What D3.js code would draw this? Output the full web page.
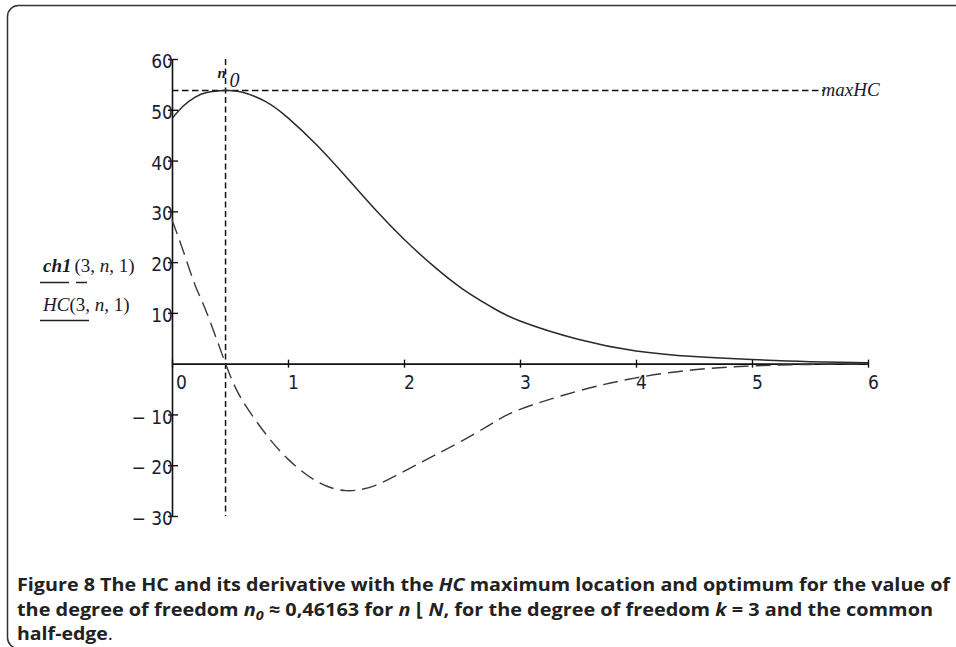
<!DOCTYPE html>
<html>
<head>
<meta charset="utf-8">
<script src="https://cdn.jsdelivr.net/npm/d3@7"></script>
<style>
  body { margin: 0; background: #fff; }
  svg { display: block; }
</style>
</head>
<body>
<script>
// values
var nValues   = [0, 0.1, 0.2, 0.3, 0.46163, 0.6, 0.8, 1.0, 1.25, 1.5, 1.75, 2.0, 2.25, 2.5, 2.75, 3.0, 3.5, 4.0, 4.5, 5.0, 5.5, 6.0];
var hcValues  = [48.3, 50.8, 52.5, 53.4, 53.8, 53.5, 51.7, 48.4, 43.0, 36.8, 30.4, 24.5, 19.3, 14.8, 11.2, 8.4, 4.8, 2.5, 1.4, 0.8, 0.4, 0.2];
var ch1Values = [28.3, 22.0, 15.4, 10.0, 0, -7.0, -13.6, -18.8, -23.2, -25.0, -24.0, -21.2, -18.2, -15.2, -11.9, -9.0, -5.4, -2.8, -1.2, -0.45, -0.15, -0.05];
var xTicks = [0, 1, 2, 3, 4, 5, 6];
var yTicks = [60, 50, 40, 30, 20, 10, -10, -20, -30];
var n0 = 0.46163, maxHC = 53.8;

var width = 956, height = 647;

var svg = d3.select("body").append("svg")
    .attr("width", width)
    .attr("height", height);

//frame with rounded corner, right side runs off the page
svg.append("rect")
    .attr("x", 7.5).attr("y", 5.5)
    .attr("width", 1000).attr("height", 643)
    .attr("rx", 11)
    .attr("fill", "none")
    .attr("stroke", "#333")
    .attr("stroke-width", 1.5);

var x = d3.scaleLinear().domain([0, 6]).range([172, 868]);
var y = d3.scaleLinear().domain([-30, 60]).range([516, 59]);

var tickFont = "'DejaVu Sans Condensed', 'DejaVu Sans', sans-serif";
var mathFont = "'Liberation Serif', 'DejaVu Serif', serif";

/* AXES */
var yAxis = svg.append("g")
    .attr("transform", "translate(" + x(0) + ",0)")
    .call(d3.axisLeft(y).tickValues(yTicks).tickSize(4).tickSizeOuter(0)
        .tickFormat(function(d){ return d < 0 ? "\u2212 " + Math.abs(d) : d; }));
yAxis.select(".domain").attr("stroke", "#111").attr("stroke-width", 1.6);
yAxis.selectAll(".tick line").attr("x1", 6).attr("x2", -4).attr("stroke", "#111").attr("stroke-width", 1.4);
yAxis.selectAll(".tick text")
    .attr("x", 1).attr("dy", "0.45em")
    .attr("font-family", tickFont).attr("font-size", 19).attr("fill", "#1c1c30");

var xAxis = svg.append("g")
    .attr("transform", "translate(0," + y(0) + ")")
    .call(d3.axisBottom(x).tickValues(xTicks).tickSize(4).tickSizeOuter(0)
        .tickFormat(d3.format("d")));
xAxis.select(".domain").attr("stroke", "#111").attr("stroke-width", 1.6);
xAxis.selectAll(".tick line").attr("y1", -4).attr("y2", 4).attr("stroke", "#111").attr("stroke-width", 1.4);
xAxis.selectAll(".tick text")
    .attr("x", function(d){ return d === 0 ? 9 : 5; }).attr("y", 25).attr("dy", 0)
    .attr("font-family", tickFont).attr("font-size", 19).attr("fill", "#1c1c30");

/* REFERENCE LINES */
svg.append("line")
    .attr("x1", x(n0)).attr("x2", x(n0))
    .attr("y1", y(60)).attr("y2", y(-30))
    .attr("stroke", "#111").attr("stroke-width", 1.5)
    .attr("stroke-dasharray", "6,3.5");

svg.append("line")
    .attr("x1", x(0)).attr("x2", x(5.62))
    .attr("y1", y(maxHC)).attr("y2", y(maxHC))
    .attr("stroke", "#111").attr("stroke-width", 1.5)
    .attr("stroke-dasharray", "6.5,3.5");

/* CURVES */
var line = d3.line().curve(d3.curveNatural);

svg.append("path")
    .attr("d", line(nValues.map(function(n, i){ return [x(n), y(hcValues[i])]; })))
    .attr("fill", "none")
    .attr("stroke", "#2a2a2a")
    .attr("stroke-width", 1.5);

svg.append("path")
    .attr("d", line(nValues.map(function(n, i){ return [x(n), y(ch1Values[i])]; })))
    .attr("fill", "none")
    .attr("stroke", "#3a3a3a")
    .attr("stroke-width", 1.4)
    .attr("stroke-dasharray", "15,7");

/* LABELS */
var maxLabel = svg.append("text")
    .attr("x", x(5.6)).attr("y", y(maxHC) + 6)
    .attr("font-family", mathFont).attr("font-size", 19)
    .attr("font-style", "italic").attr("fill", "#1a1a2a");
maxLabel.append("tspan").text("max");
maxLabel.append("tspan").text("HC");

svg.append("text")
    .attr("x", x(n0) - 8).attr("y", y(60) + 19)
    .attr("font-family", mathFont).attr("font-size", 15)
    .attr("font-style", "italic").attr("font-weight", "bold").attr("fill", "#1a1a2a")
    .text("n");
svg.append("text")
    .attr("x", x(n0) + 4).attr("y", y(60) + 28)
    .attr("font-family", mathFont).attr("font-size", 20)
    .attr("font-style", "italic").attr("fill", "#1a1a2a")
    .text("0");

//trace names on the left, each underlined with its line style
var lab1 = svg.append("text")
    .attr("x", 43).attr("y", 272)
    .attr("font-family", mathFont).attr("font-size", 19).attr("fill", "#1a1a2a");
lab1.append("tspan").attr("font-style", "italic").attr("font-weight", "bold").text("ch1");
lab1.append("tspan").attr("dx", 3).text("(3, ");
lab1.append("tspan").attr("font-style", "italic").text("n");
lab1.append("tspan").text(", 1)");

var lab2 = svg.append("text")
    .attr("x", 43).attr("y", 311)
    .attr("font-family", mathFont).attr("font-size", 19).attr("fill", "#1a1a2a");
lab2.append("tspan").attr("font-style", "italic").text("HC");
lab2.append("tspan").text("(3, ");
lab2.append("tspan").attr("font-style", "italic").text("n");
lab2.append("tspan").text(", 1)");

svg.append("line").attr("x1", 40).attr("x2", 69).attr("y1", 282.5).attr("y2", 282.5)
    .attr("stroke", "#222").attr("stroke-width", 1.5);
svg.append("line").attr("x1", 76).attr("x2", 87).attr("y1", 282.5).attr("y2", 282.5)
    .attr("stroke", "#222").attr("stroke-width", 1.5);
svg.append("line").attr("x1", 40).attr("x2", 89).attr("y1", 320.5).attr("y2", 320.5)
    .attr("stroke", "#222").attr("stroke-width", 1.5);

/* CAPTION */
var capFont = "'Open Sans', 'Noto Sans', sans-serif";
function capLine(yPos, len, parts){
    var t = svg.append("text")
        .attr("x", 17).attr("y", yPos)
        .attr("font-family", capFont).attr("font-size", 18)
        .attr("font-weight", "bold").attr("fill", "#222");
    if (len) t.attr("textLength", len).attr("lengthAdjust", "spacingAndGlyphs");
    parts.forEach(function(p){
        var s = t.append("tspan").text(p.t);
        if (p.i) s.attr("font-style", "italic");
        if (p.sub) s.attr("font-size", 13).attr("dy", 4);
        if (p.up) s.attr("dy", -4);
        if (p.n) s.attr("font-weight", "normal");
    });
}
capLine(591, 933, [
    {t: "Figure 8 The HC and its derivative with the "},
    {t: "HC", i: true},
    {t: " maximum location and optimum for the value of"}
]);
capLine(616, 916, [
    {t: "the degree of freedom "},
    {t: "n", i: true},
    {t: "0", i: true, sub: true},
    {t: " \u2248 0,46163 for ", up: true},
    {t: "n", i: true},
    {t: " \u230A "},
    {t: "N", i: true},
    {t: ", for the degree of freedom "},
    {t: "k", i: true},
    {t: " = 3 and the common"}
]);
capLine(640, 96, [
    {t: "half-edge"},
    {t: ".", n: true}
]);
</script>
</body>
</html>
